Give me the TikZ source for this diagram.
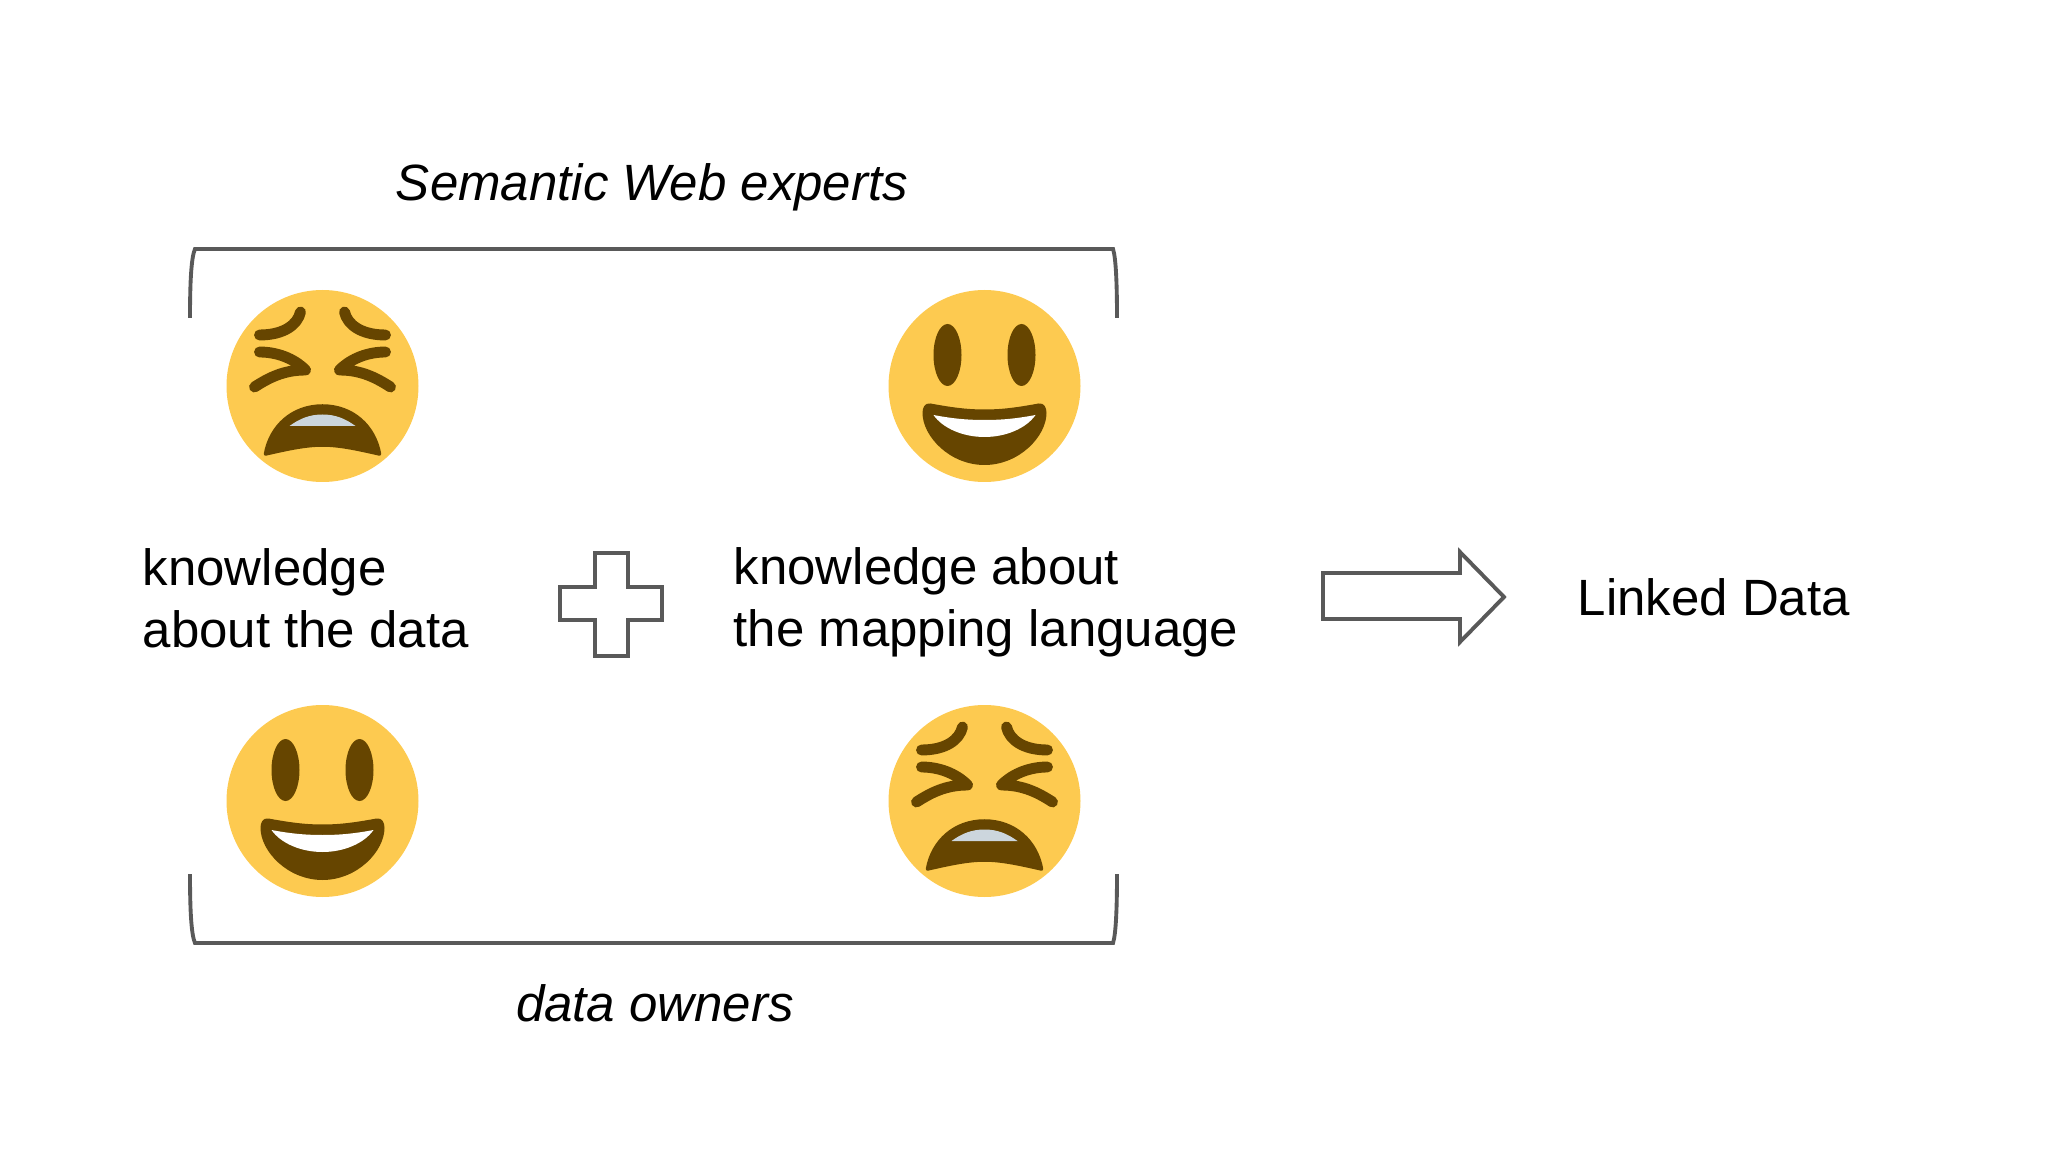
\documentclass[tikz,border=0pt]{standalone}
\usepackage{fontspec}
\setmainfont{Liberation Sans}
\definecolor{faceyellow}{HTML}{FDCA50}
\definecolor{facebrown}{HTML}{664500}
\definecolor{toothgrey}{HTML}{CCD6DD}
\definecolor{linegrey}{HTML}{595959}
\tikzset{
    label/.style={inner sep=0pt, font=\fontsize{14.5}{17.6}\selectfont, align=left},
    outline/.style={draw=linegrey, line width=1.1pt, line join=miter},
    wrinkle/.style={draw=facebrown, line width=3.1pt, line cap=round, line join=round},
    smileface/.pic={
        \fill[faceyellow] (0,0) circle (96);
        \fill[facebrown] (-37,-31) ellipse (14 and 31);
        \fill[facebrown] (37,-31) ellipse (14 and 31);
        \fill[facebrown] (-54,17.5) .. controls (-30,22) and (-15,23.5) .. (0,23.5) .. controls (15,23.5) and (30,22) .. (54,17.5) .. controls (60,16.5) and (62,22) .. (62,27) .. controls (62,50) and (35,79) .. (0,79) .. controls (-35,79) and (-62,50) .. (-62,27) .. controls (-62,22) and (-60,16.5) .. (-54,17.5) -- cycle;
        \fill[white] (-51,29) .. controls (-30,33) and (-15,34) .. (0,34) .. controls (15,34) and (30,33) .. (51,29) .. controls (42,42) and (22,51) .. (0,51) .. controls (-22,51) and (-42,42) .. (-51,29) -- cycle;
    },
    tiredface/.pic={
        \fill[faceyellow] (0,0) circle (96);
        \draw[wrinkle] (-63,-51) .. controls (-39,-51) and (-25,-61) .. (-22,-74);
        \draw[wrinkle] (63,-51) .. controls (39,-51) and (25,-61) .. (22,-74);
        \draw[wrinkle] (-63,-34) .. controls (-46,-34) and (-29,-28) .. (-17,-16) .. controls (-39,-16) and (-54,-8) .. (-68,1);
        \draw[wrinkle] (63,-34) .. controls (46,-34) and (29,-28) .. (17,-16) .. controls (39,-16) and (54,-8) .. (68,1);
        \filldraw[facebrown, line width=1pt, line join=round] (-57,68) .. controls (-52,40) and (-30,20) .. (0,20) .. controls (30,20) and (52,40) .. (57,68) .. controls (35,63) and (17,59) .. (0,59) .. controls (-17,59) and (-35,63) .. (-57,68) -- cycle;
        \fill[toothgrey] (-33,40) .. controls (-22,32) and (-12,28.5) .. (0,28.5) .. controls (12,28.5) and (22,32) .. (33,40) -- cycle;
    }
}
\begin{document}
\begin{tikzpicture}[x=0.01cm, y=-0.01cm]
    \useasboundingbox (0,0) rectangle (2048,1152);
    % brackets
    \draw[outline] (190,318) .. controls (190,285) and (191,258) .. (195,249) -- (1113,249) .. controls (1116,258) and (1117,285) .. (1117,318);
    \draw[outline] (190,874) .. controls (190,907) and (191,934) .. (195,943) -- (1113,943) .. controls (1116,934) and (1117,907) .. (1117,874);
    % faces
    \pic at (322.5,386) {tiredface};
    \pic at (984.5,386) {smileface};
    \pic at (322.5,801) {smileface};
    \pic at (984.5,801) {tiredface};
    % plus and arrow
    \draw[outline] (595,553) -- (628,553) -- (628,587) -- (662,587) -- (662,620) -- (628,620) -- (628,656) -- (595,656) -- (595,620) -- (560,620) -- (560,587) -- (595,587) -- cycle;
    \draw[outline] (1323,573) -- (1460,573) -- (1460,552) -- (1504,597) -- (1460,642) -- (1460,619) -- (1323,619) -- cycle;
    % texts
    \node[label, anchor=base] (experts) at (652,201) {\itshape Semantic Web experts};
    \node[label, anchor=west] (dataknow) at (142,598) {knowledge\\about the data};
    \node[label, anchor=west] (mapknow) at (733,602) {knowledge about\\the mapping language};
    \node[label, anchor=west] (linked) at (1577,597) {Linked Data};
    \node[label, anchor=base] (owners) at (655,1021) {\itshape data owners};
\end{tikzpicture}
\end{document}
